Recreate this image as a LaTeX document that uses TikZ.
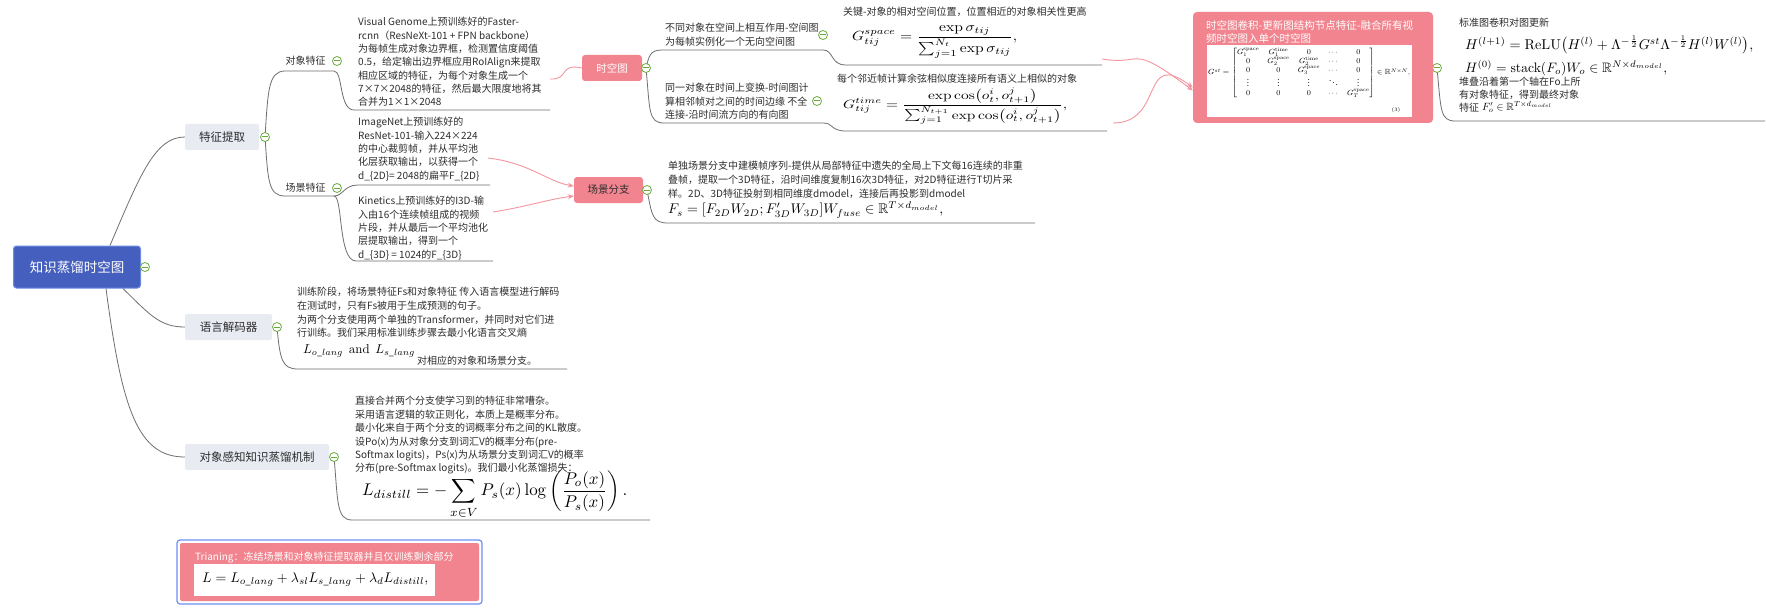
\documentclass[tikz,border=0pt]{standalone}
\usepackage[no-math]{fontspec}
\setmainfont{Noto Sans CJK SC}
\usepackage{amsmath,amssymb,graphicx}
\usetikzlibrary{arrows.meta,calc}
\definecolor{pinkc}{RGB}{241,132,142}
\definecolor{relc}{RGB}{243,150,160}
\definecolor{rootc}{RGB}{69,95,190}
\definecolor{rootb}{RGB}{110,140,225}
\definecolor{branchc}{RGB}{233,235,243}
\definecolor{txtc}{RGB}{45,45,45}
\definecolor{linec}{RGB}{110,110,110}
\definecolor{cgreen}{RGB}{106,170,60}
\definecolor{selblue}{RGB}{110,140,245}
\pgfdeclarelayer{bg}\pgfdeclarelayer{lines}\pgfsetlayers{bg,lines,main}
\begin{document}
\begin{tikzpicture}[x=1pt,y=-1pt,
  txt/.style={anchor=north west, inner sep=0, align=left, text=txtc, font=\fontsize{10}{13.3}\selectfont},
  wtxt/.style={anchor=north west, inner sep=0, align=left, text=white, font=\fontsize{10.5}{13.3}\selectfont},
  lbl/.style={inner sep=0, text=txtc, font=\fontsize{10}{12}\selectfont},
  one/.style={anchor=west, inner sep=0, text=txtc, font=\fontsize{10}{12}\selectfont},
  fml/.style={anchor=west, inner sep=0},
  conn/.style={draw=linec, line width=0.8pt},
  rel/.style={draw=relc, line width=0.9pt},
  relarrow/.style={rel, -{Stealth[length=6pt,width=5pt]}},
  branchbox/.style={fill=branchc, rounded corners=2pt, minimum height=26pt, inner sep=0, text=txtc, font=\fontsize{11.5}{13}\selectfont},
  pinkbox/.style={fill=pinkc, rounded corners=3pt, minimum height=26pt, inner sep=0, font=\fontsize{10.5}{12}\selectfont},
  rootbox/.style={fill=rootc, draw=rootb, line width=1pt, rounded corners=3pt, text=white, minimum width=127pt, minimum height=42pt, font=\fontsize{13.5}{15}\selectfont},
  collapse/.style={circle, draw=cgreen, fill=white, line width=0.8pt, minimum size=9pt, inner sep=0,
    path picture={\draw[cgreen, line width=1pt] ([xshift=-3.2pt]path picture bounding box.center) -- ([xshift=3.2pt]path picture bounding box.center);}}
]
\useasboundingbox (0,0) rectangle (1766,615);
\begin{pgfonlayer}{bg}
\fill[white] (0,0) rectangle (1766,615);
\end{pgfonlayer}

% ---------- main nodes ----------
\node[rootbox] (root) at (77,267) {知识蒸馏时空图};
\node[branchbox, minimum width=74pt] (fe) at (222,137) {特征提取};
\node[branchbox, minimum width=87pt] (dec) at (228.5,327) {语言解码器};
\node[branchbox, minimum width=144pt] (oak) at (257,457) {对象感知知识蒸馏机制};

\node[lbl] (of) at (305.5,61) {对象特征};
\node[lbl] (sf) at (305.5,188) {场景特征};

\node[pinkbox, text=white, minimum width=60pt] (stg) at (612,68) {时空图};
\node[pinkbox, text=txtc, minimum width=69pt] (sb) at (608.5,190) {场景分支};

% ---------- collapse markers ----------
\node[collapse] (c0) at (145,267) {};
\node[collapse] (c1) at (265,137) {};
\node[collapse] (c2) at (277,327) {};
\node[collapse] (c3) at (334,457) {};
\node[collapse] (c4) at (337,61) {};
\node[collapse] (c5) at (337,188) {};
\node[collapse] (c6) at (646,68) {};
\node[collapse] (c7) at (647,190) {};
\node[collapse] (c8) at (823,35) {};
\node[collapse] (c9) at (817,101) {};
\node[collapse] (c10) at (1437,68) {};

% ---------- text blocks ----------
\node[txt] (oft) at (358,17.3) {Visual Genome上预训练好的Faster-\\rcnn（ResNeXt-101 + FPN backbone）\\为每帧生成对象边界框，检测置信度阈值\\0.5，给定输出边界框应用RoIAlign来提取\\相应区域的特征，为每个对象生成一个\\7×7×2048的特征，然后最大限度地将其\\合并为1×1×2048};
\node[txt] (imt) at (358,117.3) {ImageNet上预训练好的\\ResNet-101-输入224×224\\的中心裁剪帧，并从平均池\\化层获取输出，以获得一个\\d\_\{2D\}= 2048的扁平F\_\{2D\}};
\node[txt] (kit) at (358,196.3) {Kinetics上预训练好的I3D-输\\入由16个连续帧组成的视频\\片段，并从最后一个平均池化\\层提取输出，得到一个\\d\_\{3D\} = 1024的F\_\{3D\}};

\node[txt, font=\fontsize{10}{13.6}\selectfont] (dect) at (297,287.3) {训练阶段，将场景特征Fs和对象特征 传入语言模型进行解码\\在测试时，只有Fs被用于生成预测的句子。\\为两个分支使用两个单独的Transformer，并同时对它们进\\行训练。我们采用标准训练步骤去最小化语言交叉熵};
\node[fml] (decf) at (303,351) {\resizebox{112pt}{!}{$L_{o\_lang}\ \ \mathrm{and}\ \ L_{s\_lang}$}};
\node[one] (dect2) at (417,361) {对相应的对象和场景分支。};

\node[txt, font=\fontsize{10}{13.4}\selectfont] (oakt) at (355,396.3) {直接合并两个分支使学习到的特征非常嘈杂。\\采用语言逻辑的软正则化，本质上是概率分布。\\最小化来自于两个分支的词概率分布之间的KL散度。\\设Po(x)为从对象分支到词汇V的概率分布(pre-\\Softmax logits)，Ps(x)为从场景分支到词汇V的概率\\分布(pre-Softmax logits)。我们最小化蒸馏损失：};
\node[fml] (oakf) at (362,495) {\resizebox{265pt}{!}{$\displaystyle L_{distill} = -\sum_{x\in V} P_s(x)\log\left(\frac{P_o(x)}{P_s(x)}\right).$}};

% spatial / temporal
\node[txt] (spt) at (665,23.3) {不同对象在空间上相互作用-空间图\\为每帧实例化一个无向空间图};
\node[one] (spti) at (843,12) {关键-对象的相对空间位置，位置相近的对象相关性更高};
\node[fml] (spf) at (852,42) {\resizebox*{165pt}{32pt}{$\displaystyle G^{space}_{tij} = \frac{\exp\sigma_{tij}}{\sum_{j=1}^{N_t}\exp\sigma_{tij}},$}};

\node[txt] (tmt) at (665,83.3) {同一对象在时间上变换-时间图计\\算相邻帧对之间的时间边缘 不全\\连接-沿时间流方向的有向图};
\node[one] (tmti) at (837,79) {每个邻近帧计算余弦相似度连接所有语义上相似的对象};
\node[fml] (tmf) at (843,106) {\resizebox*{224pt}{36pt}{$\displaystyle G^{time}_{tij} = \frac{\exp\cos\bigl(o_t^i, o_{t+1}^j\bigr)}{\sum_{j=1}^{N_{t+1}}\exp\cos\bigl(o_t^i, o_{t+1}^j\bigr)},$}};

% scene branch
\node[txt, font=\fontsize{10}{14}\selectfont] (sbt) at (668,160.3) {单独场景分支中建模帧序列-提供从局部特征中遗失的全局上下文每16连续的非重\\叠帧，提取一个3D特征，沿时间维度复制16次3D特征，对2D特征进行T切片采\\样。2D、3D特征投射到相同维度dmodel，连接后再投影到dmodel};
\node[fml] (sbf) at (668,210) {\resizebox{275pt}{!}{$F_s = [F_{2D}W_{2D}; F'_{3D}W_{3D}]W_{fuse}\in\mathbb{R}^{T\times d_{model}},$}};

% pink box
\node[fill=pinkc, rounded corners=4pt, minimum width=240pt, minimum height=111pt, inner sep=0] (pk) at (1313,67.5) {};
\node[wtxt] (pkt) at (1206,20.3) {时空图卷积-更新图结构节点特征-融合所有视\\频时空图入单个时空图};
\node[fill=white, minimum width=205pt, minimum height=72pt, inner sep=0] (pkw) at (1309.5,81) {};
\node[fml] (pkf) at (1208,73) {\resizebox*{202pt}{50pt}{$G^{st} = \begin{bmatrix} G_1^{\mathrm{space}} & G_1^{\mathrm{time}} & 0 & \cdots & 0\\ 0 & G_2^{\mathrm{space}} & G_2^{\mathrm{time}} & \cdots & 0\\ 0 & 0 & G_3^{\mathrm{space}} & \cdots & 0\\ \vdots & \vdots & \vdots & \ddots & \vdots\\ 0 & 0 & 0 & \cdots & G_T^{\mathrm{space}}\end{bmatrix}\in\mathbb{R}^{N\times N},$}};
\node[inner sep=0, font=\fontsize{5.5}{6}\selectfont] (eq3) at (1396,110) {$(3)$};

% right text
\node[one] (rtt) at (1459,23) {标准图卷积对图更新};
\node[fml] (h1) at (1465,45) {\resizebox{288pt}{!}{$H^{(l+1)} = \mathrm{ReLU}\bigl(H^{(l)} + \Lambda^{-\frac{1}{2}}G^{st}\Lambda^{-\frac{1}{2}}H^{(l)}W^{(l)}\bigr),$}};
\node[fml] (h0) at (1465,68) {\resizebox{202pt}{!}{$H^{(0)} = \mathrm{stack}(F_o)W_o\in\mathbb{R}^{N\times d_{model}},$}};
\node[txt, font=\fontsize{10}{13}\selectfont] (rtt2) at (1459,77.3) {堆叠沿着第一个轴在Fo上所\\有对象特征，得到最终对象\\特征};
\node[fml] (fo) at (1482,107) {\resizebox{70pt}{!}{$F'_o\in\mathbb{R}^{T\times d_{model}}$}};

% training box
\node[draw=selblue, line width=1.2pt, rounded corners=3pt, minimum width=305pt, minimum height=64pt, inner sep=0] (trsel) at (329.5,572) {};
\node[fill=pinkc, rounded corners=2pt, minimum width=299pt, minimum height=58pt, inner sep=0] (tr) at (329.5,572) {};
\node[one, text=white] (trt) at (195,557) {Trianing：冻结场景和对象特征提取器并且仅训练剩余部分};
\node[fill=white, minimum width=241pt, minimum height=32pt, inner sep=0] (trw) at (314.5,580) {};
\node[fml] (trf) at (202,580) {\resizebox{226pt}{!}{$L = L_{o\_lang} + \lambda_{sl}L_{s\_lang} + \lambda_d L_{distill},$}};

% ---------- coordinates for free ends ----------
\coordinate (ofU) at (550,110);
\coordinate (imU) at (490,185);
\coordinate (kiU) at (493,261);
\coordinate (decU) at (567,369);
\coordinate (oakU) at (650,520);
\coordinate (spU) at (1102,65);
\coordinate (tmU) at (1107,131);
\coordinate (sbU) at (1035,223);
\coordinate (rtU) at (1765,121);
\coordinate (ofR) at (550,79);
\coordinate (imR) at (488,158);
\coordinate (kiR) at (493,212);
\coordinate (spR) at (1102,59);
\coordinate (tmR) at (1113,123);

% ---------- connectors ----------
\begin{pgfonlayer}{lines}
\draw[conn] ([xshift=33pt]root.north) .. controls (140,175) and (155,137) .. (fe.west);
\draw[conn] ([xshift=46pt]root.south) .. controls (150,315) and (160,327) .. (dec.west);
\draw[conn] ([xshift=29pt]root.south) .. controls (122,410) and (138,457) .. (oak.west);

\draw[conn] (c1.center) .. controls (268,92) and (268,71) .. (285,71) -- (334,71) .. controls (343,71) and (339,110) .. (354,110) -- (ofU);
\draw[conn] (c1.center) .. controls (268,180) and (268,196) .. (285,196) -- (334,196) .. controls (343,196) and (344,185) .. (358,185) -- (imU);
\draw[conn] (334,196) .. controls (343,196) and (338,261) .. (356,261) -- (kiU);

\draw[conn] (c2.center) .. controls (280,360) and (282,369) .. (298,369) -- (decU);
\draw[conn] (c3.center) .. controls (338,500) and (336,520) .. (352,520) -- (oakU);

\draw[conn] (c6.center) .. controls (649,56) and (650,50) .. (662,50) -- (823,50) .. controls (834,50) and (830,65) .. (846,65) -- (spU);
\draw[conn] (c6.center) .. controls (650,110) and (648,123) .. (664,123) -- (823,123) .. controls (834,123) and (830,131) .. (846,131) -- (tmU);

\draw[conn] (c7.center) .. controls (652,215) and (652,223) .. (668,223) -- (sbU);
\draw[conn] (c10.center) .. controls (1441,110) and (1440,121) .. (1455,121) -- (rtU);

% relationships
\draw[rel] (ofR) .. controls (570,80) and (558,63) .. (stg.west);
\draw[relarrow] (imR) .. controls (530,163) and (548,182) .. ([yshift=4pt]sb.west);
\draw[relarrow] (kiR) .. controls (525,207) and (550,199) .. ([yshift=-6pt]sb.west);
\draw[relarrow] (spR) .. controls (1145,66) and (1128,42) .. ([yshift=-23pt]pk.west);
\draw[relarrow] (tmR) .. controls (1165,123) and (1140,48) .. ([yshift=-20pt]pk.west);
\end{pgfonlayer}
\end{tikzpicture}
\end{document}
